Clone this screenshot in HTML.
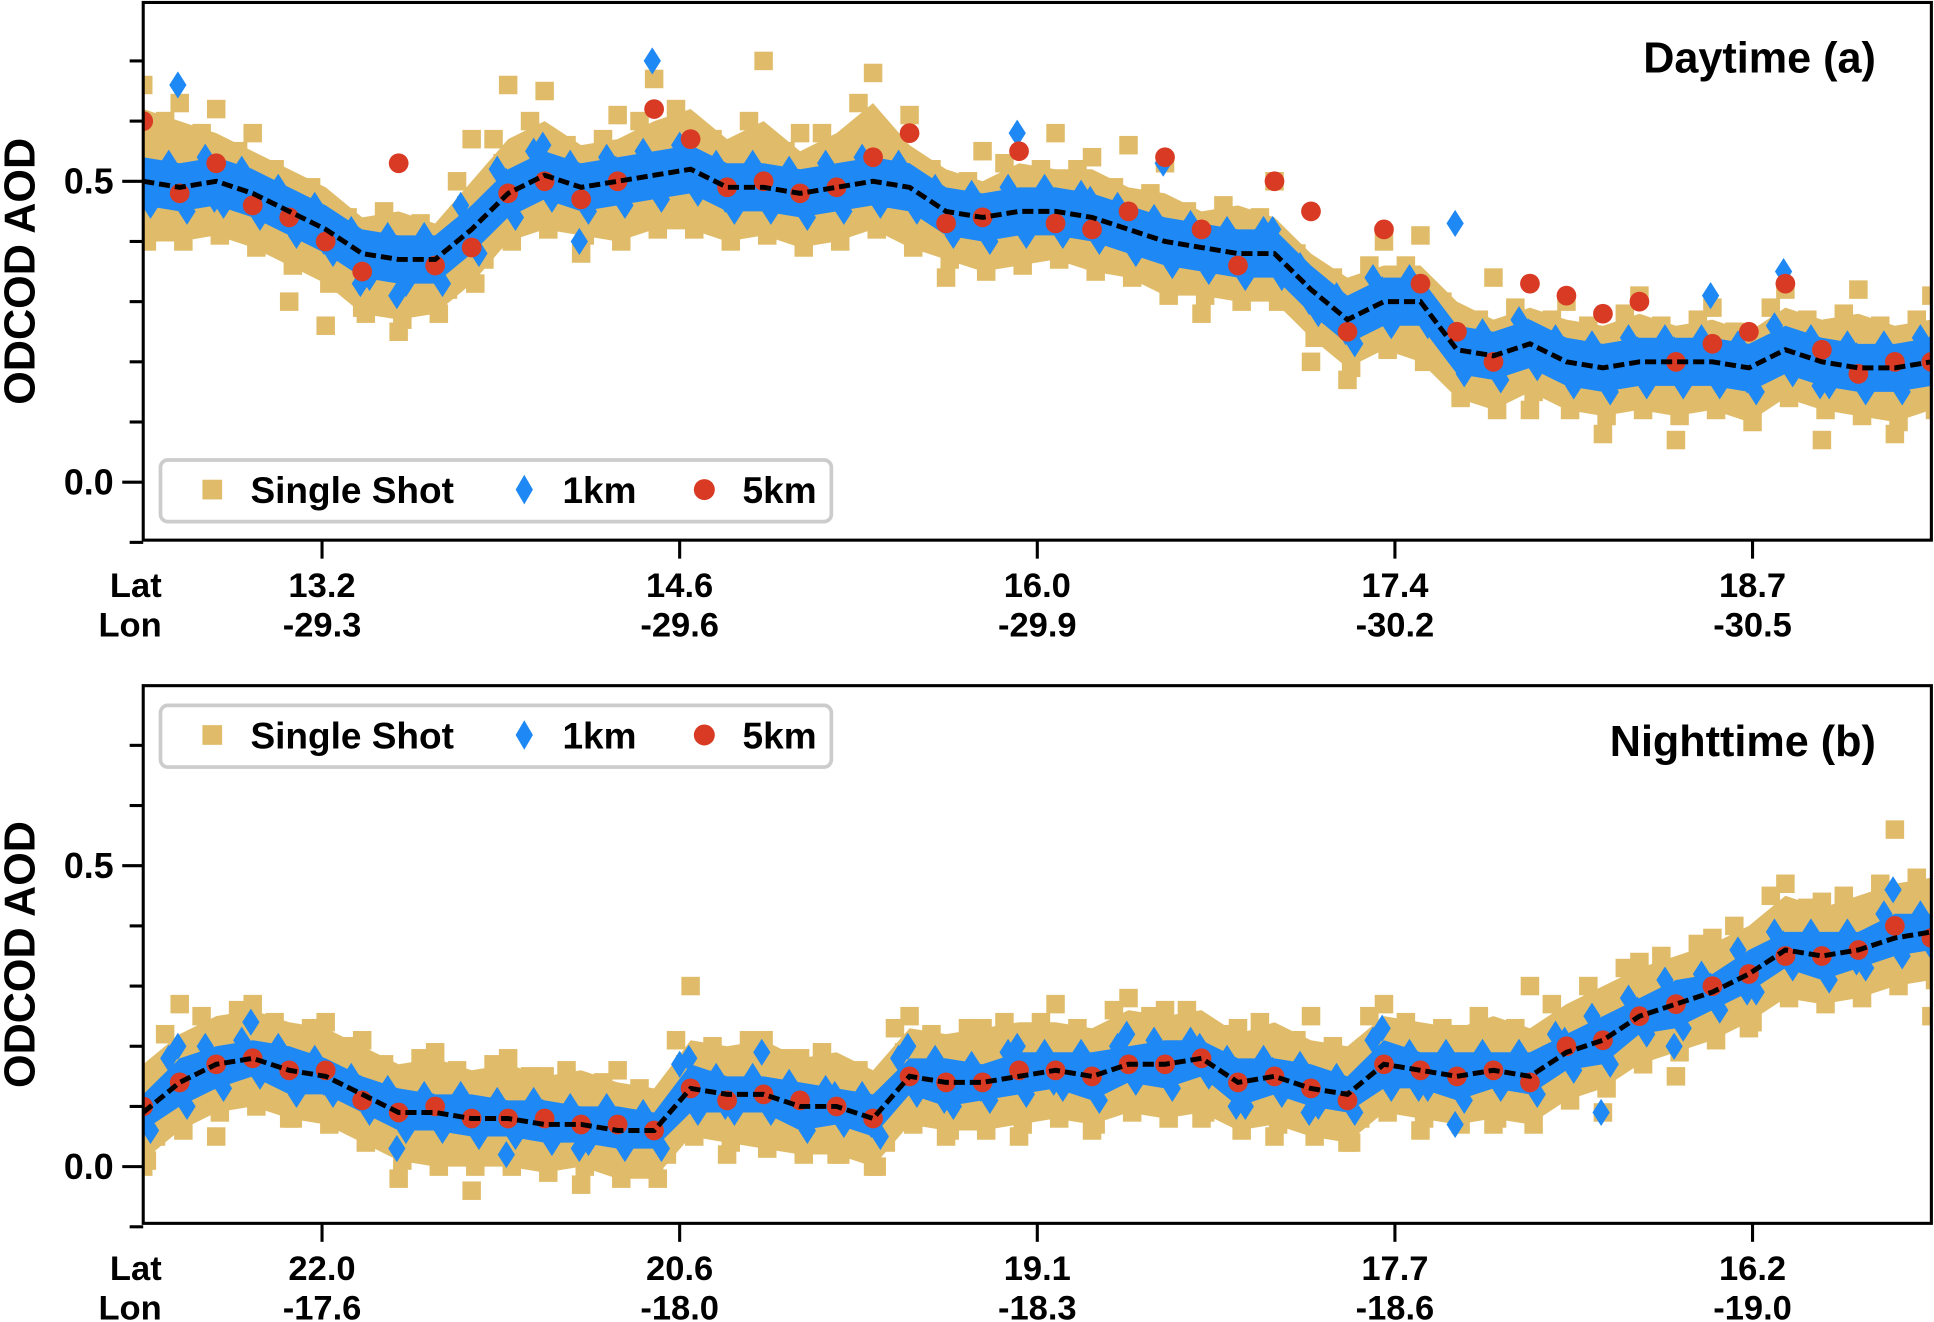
<!DOCTYPE html>
<html><head><meta charset="utf-8">
<style>
html,body{margin:0;padding:0;background:#fff;}
svg{display:block;font-family:"Liberation Sans",Arial,sans-serif;font-weight:bold;}
</style></head>
<body>
<svg id="chart" width="1934" height="1322" viewBox="0 0 1568 1072" xmlns="http://www.w3.org/2000/svg">
<defs>
<clipPath id="clipTop"><rect x="116" y="2" width="1450" height="436"/></clipPath>
<clipPath id="clipBot"><rect x="116" y="556" width="1450" height="437"/></clipPath>
</defs>
<g id="root"></g>
</svg>
<script>
// ---------- Daytime (a) data ----------
const dayLat = ["13.2","14.6","16.0","17.4","18.7"];
const dayLon = ["-29.3","-29.6","-29.9","-30.2","-30.5"];
const dayTrend = [.50,.49,.50,.48,.45,.42,.38,.37,.37,.42,.48,.51,.49,.50,.51,.52,.49,.49,.48,.49,.50,.49,.45,.44,.45,.45,.44,.42,.40,.39,.38,.38,.32,.27,.30,.30,.22,.21,.23,.20,.19,.20,.20,.20,.19,.22,.20,.19,.19,.20];
const daySsA = [.62,.60,.58,.55,.52,.49,.44,.45,.43,.50,.57,.60,.56,.57,.60,.62,.57,.60,.55,.58,.63,.56,.52,.50,.53,.52,.52,.49,.48,.45,.46,.44,.38,.34,.36,.36,.30,.27,.29,.27,.26,.28,.26,.27,.25,.29,.27,.28,.26,.27];
const daySsB = [.40,.40,.41,.39,.36,.33,.28,.27,.28,.33,.40,.42,.41,.40,.42,.42,.40,.41,.39,.40,.42,.39,.37,.35,.36,.37,.35,.34,.31,.31,.30,.30,.24,.19,.22,.20,.14,.12,.15,.12,.11,.12,.11,.12,.10,.14,.12,.11,.10,.12];
const daySsC = [.55,.53,.56,.52,.49,.46,.42,.41,.40,.46,.53,.55,.53,.54,.56,.56,.53,.54,.52,.54,.55,.53,.49,.48,.49,.49,.48,.46,.44,.43,.42,.42,.36,.31,.33,.33,.26,.24,.27,.24,.23,.24,.24,.24,.23,.26,.24,.23,.23,.24];
const daySsD = [.45,.44,.45,.43,.40,.37,.33,.32,.32,.37,.44,.46,.45,.45,.47,.47,.44,.44,.43,.44,.45,.44,.41,.39,.40,.40,.39,.37,.35,.34,.34,.33,.27,.23,.25,.25,.17,.16,.18,.15,.14,.15,.15,.15,.14,.17,.15,.14,.14,.15];
const daySsE = [.66,.63,.62,.58,.30,.26,.29,.25,.35,.57,.66,.65,.38,.61,.67,.48,.42,.70,.58,.44,.68,.61,.34,.55,.38,.58,.54,.56,.53,.28,.40,.50,.20,.17,.40,.41,.17,.34,.12,.30,.08,.31,.07,.29,.13,.32,.07,.32,.08,.31];
const dayKmA = [.54,.53,.54,.52,.49,.46,.42,.41,.41,.46,.52,.55,.53,.54,.55,.56,.53,.53,.52,.53,.54,.53,.49,.48,.49,.49,.48,.46,.44,.43,.42,.42,.36,.31,.34,.34,.26,.25,.27,.24,.23,.24,.24,.24,.23,.26,.24,.23,.23,.24];
const dayKmB = [.46,.45,.46,.44,.41,.38,.34,.33,.33,.38,.44,.47,.45,.46,.47,.48,.45,.45,.44,.45,.46,.45,.41,.40,.41,.41,.40,.38,.36,.35,.34,.34,.28,.23,.26,.26,.18,.17,.19,.16,.15,.16,.16,.16,.15,.18,.16,.15,.15,.16];
const dayKmC = [.52,.66,.47,.50,.44,.40,.33,.31,.38,.43,.50,.56,.40,.52,.70,.53,.47,.50,.47,.48,.52,.49,.44,.43,.58,.46,.47,.41,.53,.40,.39,.42,.30,.25,.32,.29,.43,.22,.25,.21,.20,.22,.22,.31,.17,.35,.16,.21,.20,.22];
const day5km = [.60,.48,.53,.46,.44,.40,.35,.53,.36,.39,.48,.50,.47,.50,.62,.57,.49,.50,.48,.49,.54,.58,.43,.44,.55,.43,.42,.45,.54,.42,.36,.50,.45,.25,.42,.33,.25,.20,.33,.31,.28,.30,.20,.23,.25,.33,.22,.18,.20,.20];

// ---------- Nighttime (b) data ----------
const nightLat = ["22.0","20.6","19.1","17.7","16.2"];
const nightLon = ["-17.6","-18.0","-18.3","-18.6","-19.0"];
const nightTrend = [.09,.14,.17,.18,.16,.15,.12,.09,.09,.08,.08,.07,.07,.06,.06,.13,.12,.12,.10,.10,.08,.15,.14,.14,.15,.16,.15,.17,.17,.18,.14,.15,.13,.12,.17,.16,.15,.16,.15,.19,.21,.25,.27,.29,.32,.36,.35,.36,.38,.39];
const nightSsA = [.17,.22,.25,.26,.24,.23,.20,.17,.18,.16,.17,.15,.16,.14,.13,.21,.20,.21,.18,.19,.16,.23,.22,.23,.24,.24,.23,.26,.25,.26,.22,.24,.21,.20,.25,.24,.23,.25,.23,.27,.30,.33,.35,.37,.40,.45,.43,.45,.47,.48];
const nightSsB = [.01,.06,.09,.10,.08,.07,.04,.01,.00,.00,.00,-.01,.00,-.02,-.02,.05,.04,.03,.02,.02,.00,.07,.06,.06,.07,.08,.07,.09,.08,.09,.06,.07,.05,.04,.09,.08,.07,.08,.07,.11,.13,.17,.19,.21,.24,.28,.27,.28,.30,.31];
const nightSsC = [.13,.18,.21,.22,.20,.19,.16,.13,.13,.12,.12,.11,.11,.10,.10,.17,.16,.16,.14,.14,.12,.19,.18,.18,.19,.20,.19,.21,.21,.22,.18,.19,.17,.16,.21,.20,.19,.20,.19,.23,.25,.29,.31,.33,.36,.40,.39,.40,.42,.43];
const nightSsD = [.05,.10,.13,.14,.12,.11,.08,.05,.05,.04,.04,.03,.03,.02,.02,.09,.08,.08,.06,.06,.04,.11,.10,.10,.11,.12,.11,.13,.13,.14,.10,.11,.09,.08,.13,.12,.11,.12,.11,.15,.17,.21,.23,.25,.28,.32,.31,.32,.34,.35];
const nightSsE = [.00,.27,.05,.27,.08,.24,.21,-.02,.19,-.04,.18,.15,-.03,.16,.00,.30,.02,.21,.18,.02,.00,.25,.05,.23,.05,.27,.06,.28,.26,.08,.23,.05,.25,.04,.27,.06,.22,.07,.30,.23,.09,.34,.15,.38,.23,.47,.44,.30,.56,.25];
const nightKmA = [.12,.18,.20,.21,.20,.18,.15,.13,.12,.12,.11,.11,.10,.10,.09,.17,.15,.15,.14,.13,.12,.18,.18,.17,.19,.19,.19,.20,.21,.21,.18,.18,.17,.15,.21,.19,.19,.19,.19,.22,.25,.28,.31,.32,.36,.39,.39,.39,.42,.42];
const nightKmB = [.06,.10,.13,.15,.12,.12,.09,.06,.06,.05,.05,.04,.04,.03,.03,.09,.09,.09,.06,.07,.05,.12,.10,.11,.12,.13,.11,.14,.13,.15,.10,.12,.10,.09,.13,.13,.11,.13,.12,.16,.17,.22,.23,.26,.29,.33,.31,.33,.35,.36];
const nightKmC = [.09,.20,.15,.24,.17,.14,.13,.03,.10,.08,.02,.09,.03,.07,.06,.18,.10,.19,.09,.12,.07,.20,.11,.13,.20,.14,.16,.22,.17,.20,.10,.16,.09,.12,.23,.13,.07,.16,.15,.21,.09,.26,.20,.30,.29,.37,.36,.34,.46,.37];
const night5km = [.10,.14,.17,.18,.16,.16,.11,.09,.10,.08,.08,.08,.07,.07,.06,.13,.11,.12,.11,.10,.08,.15,.14,.14,.16,.16,.15,.17,.17,.18,.14,.15,.13,.11,.17,.16,.15,.16,.14,.20,.21,.25,.27,.30,.32,.35,.35,.36,.40,.38];

const yTicks = [-0.1,0.0,0.1,0.2,0.3,0.4,0.5,0.6,0.7];
const yLabels = [0.0,0.5];

const NS = "http://www.w3.org/2000/svg";
const root = document.getElementById("root");
const TAN="#e0bc6a", BLUE="#1e88f5", RED="#d93a24";
const X0=116, X1=1566;
const N = dayTrend.length;
function xPos(i){ return X0 + i*(X1-X0)/(N-1); }
function mk(tag, attrs, parent){
  const e=document.createElementNS(NS,tag);
  for(const k in attrs) e.setAttribute(k,attrs[k]);
  (parent||root).appendChild(e); return e;
}
function bandPath(upper, lower, yS){
  let d="";
  upper.forEach((v,i)=>{ d+=(i?"L":"M")+xPos(i).toFixed(1)+","+yS(v).toFixed(1); });
  for(let i=lower.length-1;i>=0;i--){ d+="L"+xPos(i).toFixed(1)+","+yS(lower[i]).toFixed(1); }
  return d+"Z";
}

function panel(cfg){
  const top=cfg.top, bot=cfg.top+436;
  const yZero = cfg.yZero;
  const yS = v => yZero - 488*v;
  const g = mk("g",{});
  
  
  const data = mk("g",{"clip-path":"url(#"+cfg.clip+")"},g);
  // single shot density band (between upper and lower single-shot series)
  const sb=mk("path",{d:bandPath(cfg.ssA,cfg.ssB,yS),fill:TAN},data);
  
  
  // single shot squares
  const ssSets=[[cfg.ssE,0.5],[cfg.ssA,0.1],[cfg.ssB,0.6],[cfg.ssC,0.35],[cfg.ssD,0.85]];
  ssSets.forEach(s=>{
    s[0].forEach((v,i)=>{
      const x=xPos(i+s[1]-0.5), y=yS(v);
      const r=mk("rect",{x:x-7.5,y:y-7.5,width:15,height:15,fill:TAN},data);
      
      
    });
  });
  // 1km density band
  const kb=mk("path",{d:bandPath(cfg.kmA,cfg.kmB,yS),fill:BLUE},data);
  
  
  // 1km diamonds
  const kmSets=[[cfg.kmA,0.2],[cfg.kmB,0.7],[cfg.kmC,0.45]];
  kmSets.forEach(s=>{
    s[0].forEach((v,i)=>{
      const x=xPos(i+s[1]-0.5), y=yS(v);
      const p=mk("polygon",{points:`${x},${y-11} ${x+7},${y} ${x},${y+11} ${x-7},${y}`,fill:BLUE},data);
      
      
    });
  });
  // 5km circles
  cfg.km5.forEach((v,i)=>{
    const c=mk("circle",{cx:xPos(i),cy:yS(v),r:8,fill:RED},data);
    
    
  });
  // trend dashed
  let d="";
  cfg.trend.forEach((v,i)=>{ d+=(i?"L":"M")+xPos(i).toFixed(1)+","+yS(v).toFixed(1); });
  const tl=mk("path",{d:d,fill:"none",stroke:"#000","stroke-width":4,"stroke-dasharray":"9,4"},data);
  
  
  // frame
  const fr=mk("rect",{x:X0,y:top,width:X1-X0,height:436,fill:"none",stroke:"#000","stroke-width":2.5},g);
  
  
  // y ticks
  yTicks.forEach(t=>{
    const major = yLabels.some(l=>Math.abs(l-t)<1e-6);
    mk("line",{x1:major?99:105,x2:X0,y1:yS(t),y2:yS(t),stroke:"#000","stroke-width":2.5},g);
  });
  yLabels.forEach(t=>{
    const tx=mk("text",{x:92,y:yS(t)+10,"text-anchor":"end","font-size":29},g);
    tx.textContent=t.toFixed(1);
    
    
  });
  const yt=mk("text",{x:0,y:0,"text-anchor":"middle","font-size":35,transform:`translate(28,${top+218}) rotate(-90)`},g);
  yt.textContent="ODCOD AOD";
  
  
  // x ticks
  cfg.lat.forEach((lab,k)=>{
    const x=261+k*290;
    mk("line",{x1:x,x2:x,y1:bot,y2:bot+15,stroke:"#000","stroke-width":2.5},g);
    const a=mk("text",{x:x,y:bot+46,"text-anchor":"middle","font-size":28},g);
    a.textContent=lab;
    
    
    const b=mk("text",{x:x,y:bot+78,"text-anchor":"middle","font-size":28},g);
    b.textContent=cfg.lon[k];
    
    
  });
  const la=mk("text",{x:131,y:bot+46,"text-anchor":"end","font-size":28},g); la.textContent="Lat";
  
  
  const lo=mk("text",{x:131,y:bot+78,"text-anchor":"end","font-size":28},g); lo.textContent="Lon";
  
  
  // title
  const ti=mk("text",{x:1521,y:top+57,"text-anchor":"end","font-size":35},g);
  ti.textContent=cfg.title;
  
  
  // legend
  const ly=cfg.legY;
  const lg=mk("g",{},g);
  
  
  mk("rect",{x:130,y:ly-24,width:544,height:50,rx:6,fill:"#fff",stroke:"#cccccc","stroke-width":3},lg);
  mk("rect",{x:164,y:ly-8,width:16,height:16,fill:TAN},lg);
  const t1=mk("text",{x:203,y:ly+11,"font-size":30},lg); t1.textContent="Single Shot";
  
  
  mk("polygon",{points:`425,${ly-12} 432,${ly} 425,${ly+12} 418,${ly}`,fill:BLUE},lg);
  const t2=mk("text",{x:456,y:ly+11,"font-size":30},lg); t2.textContent="1km";
  
  
  mk("circle",{cx:571,cy:ly,r:8.5,fill:RED},lg);
  const t3=mk("text",{x:602,y:ly+11,"font-size":30},lg); t3.textContent="5km";
  
  
}

panel({name:"daytime-panel",top:2,yZero:391,clip:"clipTop",title:"Daytime (a)",legY:397,
  lat:dayLat,lon:dayLon,trend:dayTrend,ssA:daySsA,ssB:daySsB,ssC:daySsC,ssD:daySsD,ssE:daySsE,
  kmA:dayKmA,kmB:dayKmB,kmC:dayKmC,km5:day5km});
panel({name:"nighttime-panel",top:556,yZero:946,clip:"clipBot",title:"Nighttime (b)",legY:596,
  lat:nightLat,lon:nightLon,trend:nightTrend,ssA:nightSsA,ssB:nightSsB,ssC:nightSsC,ssD:nightSsD,ssE:nightSsE,
  kmA:nightKmA,kmB:nightKmB,kmC:nightKmC,km5:night5km});
</script>
</body></html>
